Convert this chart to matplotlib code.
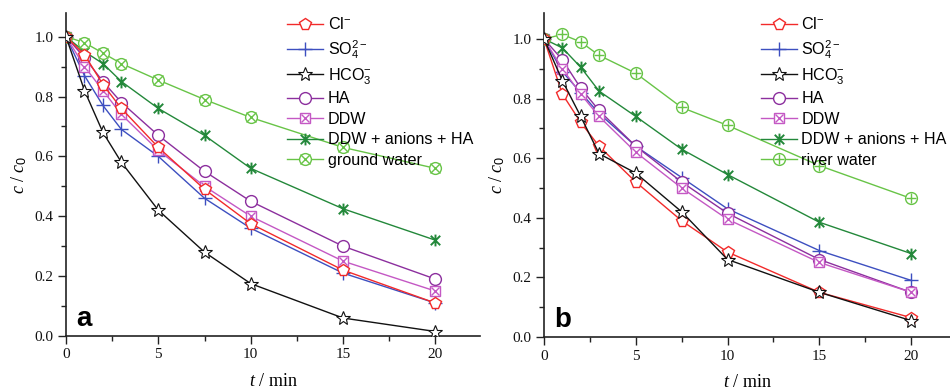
import matplotlib
matplotlib.use('Agg')
import matplotlib.pyplot as plt
from matplotlib.path import Path
from matplotlib.ticker import MultipleLocator, FormatStrFormatter

plt.rcParams['font.family'] = ['Liberation Serif', 'DejaVu Serif']
plt.rcParams['mathtext.fontset'] = 'custom'
plt.rcParams['mathtext.rm'] = 'Liberation Sans'
plt.rcParams['mathtext.it'] = 'Liberation Serif:italic'

# ---- data ----
t = [0, 1, 2, 3, 5, 7.5, 10, 15, 20]

cl_a = [1.0, 0.94, 0.84, 0.76, 0.63, 0.49, 0.375, 0.22, 0.11]
so4_a = [1.0, 0.87, 0.77, 0.69, 0.60, 0.46, 0.36, 0.21, 0.11]
hco3_a = [1.0, 0.82, 0.68, 0.58, 0.42, 0.28, 0.175, 0.06, 0.015]
ha_a = [1.0, 0.93, 0.85, 0.78, 0.67, 0.55, 0.45, 0.30, 0.19]
ddw_a = [1.0, 0.90, 0.82, 0.74, 0.62, 0.50, 0.40, 0.25, 0.15]
mix_a = [1.0, 0.95, 0.91, 0.85, 0.76, 0.67, 0.56, 0.425, 0.32]
gw_a = [1.0, 0.98, 0.945, 0.91, 0.855, 0.79, 0.73, 0.63, 0.56]

cl_b = [1.0, 0.815, 0.72, 0.64, 0.52, 0.39, 0.285, 0.15, 0.065]
so4_b = [1.0, 0.89, 0.82, 0.75, 0.64, 0.535, 0.43, 0.29, 0.19]
hco3_b = [1.0, 0.86, 0.74, 0.615, 0.55, 0.42, 0.26, 0.15, 0.055]
ha_b = [1.0, 0.93, 0.835, 0.76, 0.64, 0.52, 0.415, 0.26, 0.15]
ddw_b = [1.0, 0.90, 0.815, 0.74, 0.62, 0.50, 0.395, 0.25, 0.15]
mix_b = [1.0, 0.97, 0.905, 0.825, 0.74, 0.63, 0.545, 0.385, 0.28]
rw_b = [1.0, 1.015, 0.99, 0.945, 0.885, 0.77, 0.71, 0.575, 0.465]

labels_common = ['Cl$^{-}$', 'SO$_4^{2-}$', 'HCO$_3^{-}$', 'HA', 'DDW', 'DDW + anions + HA']
label_a_last = 'ground water'
label_b_last = 'river water'
x_ticks = [0, 5, 10, 15, 20]
y_ticks = [0.0, 0.2, 0.4, 0.6, 0.8, 1.0]

# ---- styles ----
C_RED = '#f22a2a'
C_BLUE = '#3d4fc0'
C_BLACK = '#111111'
C_PURPLE = '#8c2f9e'
C_PINK = '#c458c4'
C_DGREEN = '#23883a'
C_LGREEN = '#68c447'

ast_path = Path([(-1, -1), (1, 1), (-1, 1), (1, -1), (0, -1.25), (0, 1.25)],
                [Path.MOVETO, Path.LINETO, Path.MOVETO, Path.LINETO, Path.MOVETO, Path.LINETO])

MS = 7.5
LW = 1.0


def draw_panel(ax, data, last_label, last_overlay, panel_letter, xmax, ymax):
    cl, so4, hco3, ha, ddw, mix, last = data
    handles = []
    h, = ax.plot(t, cl, color=C_RED, lw=LW, marker='p', ms=MS + 1, mfc='white', mec=C_RED, mew=1.0, zorder=4)
    handles.append(h)
    h, = ax.plot(t, so4, color=C_BLUE, lw=LW, marker='+', ms=MS + 2, mec=C_BLUE, mew=1.0, zorder=3)
    handles.append(h)
    h, = ax.plot(t, hco3, color=C_BLACK, lw=LW, marker='*', ms=MS + 3, mfc='white', mec=C_BLACK, mew=0.8, zorder=4)
    handles.append(h)
    h, = ax.plot(t, ha, color=C_PURPLE, lw=LW, marker='o', ms=MS + 1, mfc='white', mec=C_PURPLE, mew=1.0, zorder=3)
    handles.append(h)
    h1, = ax.plot(t, ddw, color=C_PINK, lw=LW, marker='s', ms=MS, mfc='white', mec=C_PINK, mew=1.0, zorder=3)
    h2, = ax.plot(t, ddw, ls='none', marker='x', ms=MS - 2, mec=C_PINK, mew=1.0, zorder=3)
    handles.append((h1, h2))
    h, = ax.plot(t, mix, color=C_DGREEN, lw=LW, marker=ast_path, ms=MS + 1, mec=C_DGREEN, mew=1.4, zorder=3)
    handles.append(h)
    h1, = ax.plot(t, last, color=C_LGREEN, lw=LW, marker='o', ms=MS + 1, mfc='white', mec=C_LGREEN, mew=1.0, zorder=3)
    h2, = ax.plot(t, last, ls='none', marker=last_overlay, ms=MS, mec=C_LGREEN, mew=1.0, zorder=3)
    handles.append((h1, h2))

    ax.set_xlim(0, xmax)
    ax.set_ylim(0, ymax)
    ax.set_xticks(x_ticks)
    ax.set_yticks(y_ticks)
    ax.xaxis.set_minor_locator(MultipleLocator(2.5))
    ax.yaxis.set_minor_locator(MultipleLocator(0.1))
    ax.yaxis.set_major_formatter(FormatStrFormatter('%.1f'))
    for s in ['top', 'right']:
        ax.spines[s].set_visible(False)
    for s in ['left', 'bottom']:
        ax.spines[s].set_linewidth(1.2)
        ax.spines[s].set_color('#222222')
    ax.tick_params(which='major', direction='out', length=6, width=1.0, labelsize=11, colors='#222222')
    ax.tick_params(axis='x', which='major', pad=3)
    ax.tick_params(axis='y', which='major', pad=3)
    ax.tick_params(which='minor', direction='out', length=3.5, width=1.0, colors='#222222')
    for lab in ax.get_xticklabels() + ax.get_yticklabels():
        lab.set_color('#111111')

    ax.set_xlabel('$t$ / min', fontsize=13, labelpad=8)
    ax.set_ylabel('$c$ / $c_\\mathit{0}$', fontsize=13, labelpad=4)

    ax.text(0.024, 0.031, panel_letter, transform=ax.transAxes, fontsize=20,
            fontweight='bold', family='Liberation Sans', ha='left', va='baseline')

    leg = ax.legend(handles, labels_common + [last_label], loc='upper left',
                    bbox_to_anchor=(0.535, 0.99), frameon=False,
                    prop={'family': 'Liberation Sans', 'size': 11.6},
                    handlelength=2.2, handletextpad=0.3, labelspacing=0.34,
                    borderpad=0.0, borderaxespad=0.0)
    leg.set_zorder(10)


fig = plt.figure(figsize=(9.5, 3.92), dpi=100)
ax_a = fig.add_axes([66 / 950, 56 / 392, 414 / 950, 323 / 392])
ax_b = fig.add_axes([544 / 950, 55 / 392, 406 / 950, 324 / 392])

draw_panel(ax_a, (cl_a, so4_a, hco3_a, ha_a, ddw_a, mix_a, gw_a), label_a_last, 'x', 'a', 22.41, 1.079)
draw_panel(ax_b, (cl_b, so4_b, hco3_b, ha_b, ddw_b, mix_b, rw_b), label_b_last, '+', 'b', 22.12, 1.087)

fig.savefig('out.png', dpi=100)
